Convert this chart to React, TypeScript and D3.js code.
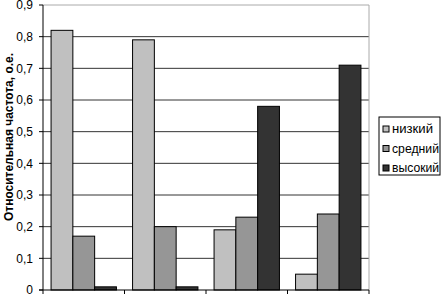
import React from "react";
import * as d3 from "d3";

const categories = ["A", "B", "C", "D"];
const seriesNames = ["низкий", "средний", "высокий"];
const low = [0.82, 0.79, 0.19, 0.05];
const mid = [0.17, 0.2, 0.23, 0.24];
const high = [0.01, 0.01, 0.58, 0.71];
const yTicks = [0, 0.1, 0.2, 0.3, 0.4, 0.5, 0.6, 0.7, 0.8, 0.9];
const colors = ["#c0c0c0", "#969696", "#333333"];

export default function App() {
  const W = 442, H = 295;
  const left = 43, right = 369, top = 5, bottom = 290;
  const x = d3.scaleBand<string>().domain(categories).range([left, right]).paddingInner(0).paddingOuter(0);
  const y = d3.scaleLinear().domain([0, 0.9]).range([bottom, top]);
  const inner = d3.scaleBand<number>().domain([0, 1, 2]).range([0, x.bandwidth()]).paddingOuter(0.37).paddingInner(0);
  const series = [low, mid, high];
  const fmt = (v: number) => (v === 0 ? "0" : d3.format(".1f")(v).replace(".", ","));
  return (
    <svg width={W} height={H} style={{ position: "absolute", left: 0, top: 0, background: "#fff" }}
      fontFamily="Arial, 'Liberation Sans', sans-serif">
      <rect x={0} y={0} width={W} height={H} fill="#fff" />
      {yTicks.slice(1).map((t) => (
        <line key={t} x1={left} x2={right} y1={y(t)} y2={y(t)} stroke={t === 0.9 ? "#aaa" : "#333"} strokeWidth={1} />
      ))}
      <line x1={right} x2={right} y1={top} y2={bottom} stroke="#aaa" />
      {series.map((vals, si) =>
        categories.map((c, ci) => (
          <rect key={si + "-" + c}
            x={(x(c) as number) + (inner(si) as number)}
            y={y(vals[ci])}
            width={inner.bandwidth()}
            height={bottom - y(vals[ci])}
            fill={colors[si]} stroke="#000" strokeWidth={1} />
        ))
      )}
      <line x1={left} x2={left} y1={top} y2={bottom} stroke="#000" />
      <line x1={left - 4} x2={right} y1={bottom} y2={bottom} stroke="#000" />
      {yTicks.map((t) => (
        <g key={"t" + t}>
          <line x1={left - 4} x2={left} y1={y(t)} y2={y(t)} stroke="#000" />
          <text x={33} y={y(t)} dy="0.35em" textAnchor="end" fontSize={12} fill="#000">{fmt(t)}</text>
        </g>
      ))}
      {categories.map((c) => (
        <line key={"x" + c} x1={(x(c) as number)} x2={(x(c) as number)} y1={bottom} y2={bottom + 4} stroke="#000" />
      ))}
      <line x1={right} x2={right} y1={bottom} y2={bottom + 4} stroke="#000" />
      <text transform={`translate(8,137) rotate(-90)`} textAnchor="middle" dy="0.35em"
        fontSize={13} fontWeight="bold" fill="#000" textLength={168} lengthAdjust="spacingAndGlyphs">Относительная частота, о.е.</text>
      <rect x={379} y={117} width={61} height={58} fill="#fff" stroke="#000" />
      {seriesNames.map((n, i) => (
        <g key={n} transform={`translate(383,${129 + i * 19.5})`}>
          <rect x={0} y={-3} width={6} height={6} fill={colors[i]} stroke="#000" />
          <text x={9} y={0} dy="0.35em" fontSize={12} fill="#000" textLength={n === "низкий" ? 41 : n === "средний" ? 47 : 47} lengthAdjust="spacingAndGlyphs">{n}</text>
        </g>
      ))}
    </svg>
  );
}
